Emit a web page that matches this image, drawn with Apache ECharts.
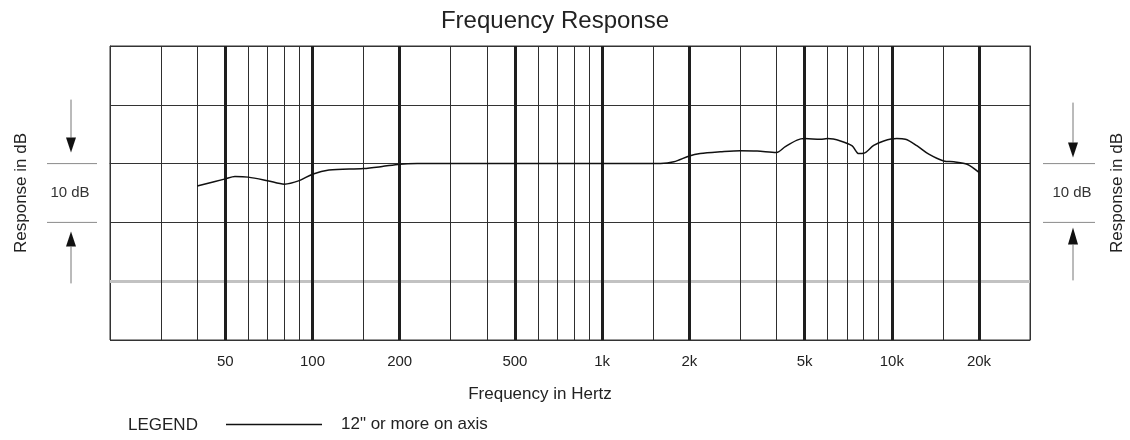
<!DOCTYPE html>
<html><head><meta charset="utf-8">
<script src="https://cdn.jsdelivr.net/npm/echarts@6/dist/echarts.min.js"></script>
<style>html,body{margin:0;padding:0;background:#fff}#c{width:1130px;height:440px}</style>
</head><body><div id="c"></div>
<script>
// ---- data ----
const freqHz = [40, 50, 54, 60, 70, 80, 90, 100, 114, 150, 174, 200, 230, 500, 1000, 1590, 1770, 2000, 2180, 2560, 3000, 3430, 4000, 4290, 4710, 5000, 5670, 6000, 6650, 7300, 7690, 8000, 8660, 9380, 10400, 11140, 12240, 13420, 15100, 16370, 18200, 20000];
const responseDb = [-3.8, -2.6, -2.2, -2.3, -2.9, -3.5, -2.9, -1.8, -1.1, -0.85, -0.5, -0.1, 0, 0, 0, 0, 0.3, 1.3, 1.7, 2.0, 2.2, 2.15, 1.9, 2.9, 4.0, 4.25, 4.15, 4.25, 3.85, 3.0, 1.7, 1.75, 3.1, 3.85, 4.25, 4.15, 3.0, 1.6, 0.45, 0.3, -0.1, -1.5];
const minorGridHz = [30, 40, 60, 70, 80, 90, 150, 300, 400, 600, 700, 800, 900, 1500, 3000, 4000, 6000, 7000, 8000, 9000, 15000];
const majorGridHz = [50, 100, 200, 500, 1000, 2000, 5000, 10000, 20000];
const tickLabelHz = [50, 100, 200, 500, 1000, 2000, 5000, 10000, 20000];
const greyLineDb = [-20];
const bracketDb = [0, -10];
const seriesName = '12" or more on axis';

const FONT = "'Liberation Sans', Arial, sans-serif";
const chart = echarts.init(document.getElementById('c'), null, {renderer: 'canvas'});

const markData = [].concat(
  greyLineDb.map(v => ({yAxis: v, lineStyle: {color: '#c2c2c2', width: 3, type: 'solid'}})),
  minorGridHz.map(v => ({xAxis: v, lineStyle: {color: '#2e2e2e', width: 1, type: 'solid'}})),
  majorGridHz.map(v => ({xAxis: v, lineStyle: {color: '#1e1e1e', width: 3, type: 'solid'}}))
);

chart.setOption({
  animation: false,
  backgroundColor: '#fff',
  title: {
    text: 'Frequency Response', left: 550, top: 4, textAlign: 'center',
    textStyle: {fontFamily: FONT, fontSize: 24, fontWeight: 'normal', color: '#222'}
  },
  legend: {
    data: [seriesName], left: 226, top: 416, padding: 0, itemWidth: 96, itemHeight: 1.5, icon: 'rect',
    textStyle: {fontFamily: FONT, fontSize: 17, color: '#222', padding: [0, 0, 0, 14]}
  },
  grid: {left: 110, right: 100, top: 46, bottom: 100, show: true, borderColor: '#333', borderWidth: 1, outerBoundsMode: 'none'},
  xAxis: {
    type: 'log', logBase: 10, min: 20, max: 30000,
    name: 'Frequency in Hertz', nameLocation: 'middle', nameGap: 46,
    nameTextStyle: {fontFamily: FONT, fontSize: 17, color: '#222', padding: [0, 60, 0, 0]},
    axisLine: {show: true, lineStyle: {color: '#333', width: 1}},
    axisTick: {show: false},
    splitLine: {show: false}, minorSplitLine: {show: false},
    axisLabel: {
      customValues: tickLabelHz, margin: 14,
      fontFamily: FONT, fontSize: 15, color: '#222',
      formatter: v => v >= 1000 ? (v / 1000) + 'k' : String(v)
    }
  },
  yAxis: [{
    type: 'value', min: -30, max: 20, interval: 10,
    name: 'Response in dB', nameLocation: 'middle', nameRotate: 90, nameGap: 80,
    nameTextStyle: {fontFamily: FONT, fontSize: 17, color: '#222'},
    axisLine: {show: true, lineStyle: {color: '#333', width: 1}},
    axisTick: {show: false}, axisLabel: {show: false},
    splitLine: {show: true, lineStyle: {color: ['#333', '#c2c2c2', '#333', '#333', '#333', '#333'], width: 1}}
  }, {
    type: 'value', min: -30, max: 20, interval: 10, position: 'right',
    name: 'Response in dB', nameLocation: 'middle', nameRotate: 90, nameGap: 79,
    nameTextStyle: {fontFamily: FONT, fontSize: 17, color: '#222'},
    axisLine: {show: true, lineStyle: {color: '#333', width: 1}},
    axisTick: {show: false}, axisLabel: {show: false}, splitLine: {show: false}
  }],
  series: [{
    type: 'line', name: '_grid', data: [], z: 1, silent: true,
    markLine: {silent: true, symbol: ['none', 'none'], label: {show: false}, animation: false, data: markData}
  }, {
    type: 'line', name: seriesName, z: 10,
    data: freqHz.map((f, i) => [f, responseDb[i]]),
    smooth: 0.3, symbol: 'none', showSymbol: false,
    lineStyle: {color: '#111', width: 1.5}, itemStyle: {color: '#111'}
  }]
});

// ---- "10 dB" brackets and arrows, placed from the y scale ----
const yTop = chart.convertToPixel({yAxisIndex: 0}, bracketDb[0]);
const yBot = chart.convertToPixel({yAxisIndex: 0}, bracketDb[1]);
function bracket(xc, x0, x1, d) {
  const g = [];
  const lineC = '#8a8a8a';
  g.push({type: 'line', shape: {x1: x0, y1: yTop, x2: x1, y2: yTop}, style: {stroke: lineC, lineWidth: 1}});
  g.push({type: 'line', shape: {x1: x0, y1: yBot, x2: x1, y2: yBot}, style: {stroke: lineC, lineWidth: 1}});
  g.push({type: 'line', shape: {x1: xc, y1: yTop - d.dl0, x2: xc, y2: yTop - d.dh}, style: {stroke: '#777', lineWidth: 1}});
  g.push({type: 'polygon', shape: {points: [[xc - 5, yTop - d.dh], [xc + 5, yTop - d.dh], [xc, yTop - d.dt]]}, style: {fill: '#111'}});
  g.push({type: 'polygon', shape: {points: [[xc - 5, yBot + d.uh], [xc + 5, yBot + d.uh], [xc, yBot + d.ut]]}, style: {fill: '#111'}});
  g.push({type: 'line', shape: {x1: xc, y1: yBot + d.uh, x2: xc, y2: yBot + d.ul1}, style: {stroke: '#777', lineWidth: 1}});
  g.push({type: 'text', x: xc - 1, y: (yTop + yBot) / 2, style: {text: '10 dB', font: '15px ' + FONT, fill: '#333', align: 'center', verticalAlign: 'middle'}});
  return g;
}
const graphics = [].concat(
  bracket(71, 47, 97, {dl0: 64, dh: 26, dt: 11, uh: 24, ut: 9, ul1: 61}),
  bracket(1073, 1043, 1095, {dl0: 61, dh: 21, dt: 6, uh: 22, ut: 5, ul1: 58}),
  [{type: 'text', x: 128, y: 425, style: {text: 'LEGEND', font: '17px ' + FONT, fill: '#222', align: 'left', verticalAlign: 'middle'}}]
);
chart.setOption({graphic: graphics});
</script></body></html>
